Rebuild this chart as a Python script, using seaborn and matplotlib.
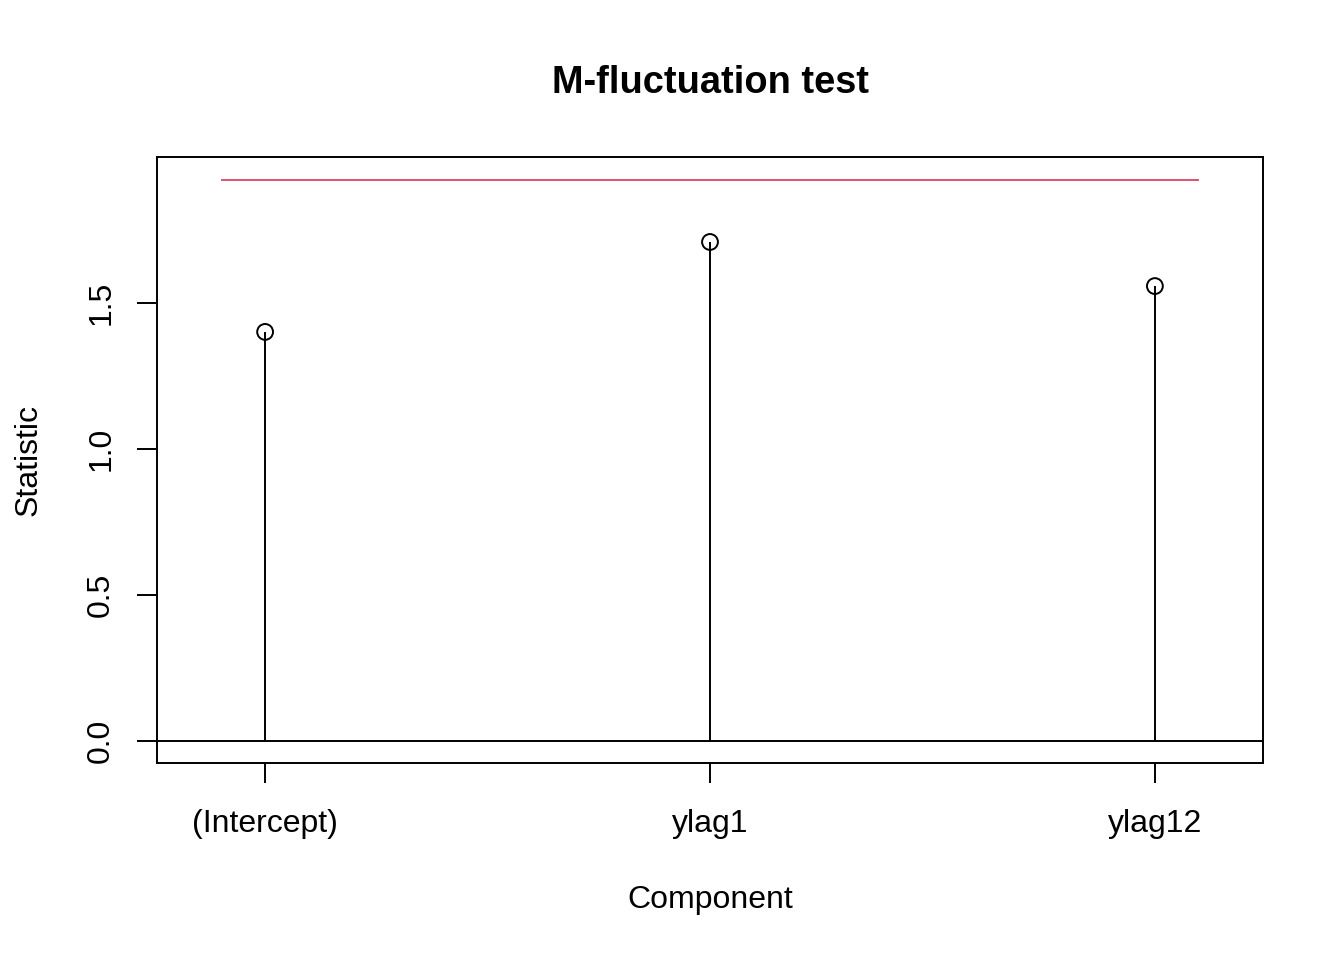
import numpy as np
import pandas as pd
import seaborn as sns
import matplotlib
matplotlib.use("Agg")
import matplotlib.pyplot as plt

# データ
components = ["(Intercept)", "ylag1", "ylag12"]
statistic = [1.401, 1.709, 1.558]
critical_value = 1.921

sns.set_theme(style="white")
plt.rcParams["font.family"] = ["Liberation Sans", "DejaVu Sans"]

df = pd.DataFrame({"pos": np.arange(1, len(components) + 1), "stat": statistic})

fig = plt.figure(figsize=(13.44, 9.6), dpi=100)
ax = fig.add_axes([157 / 1344, 1 - 763 / 960, (1263 - 157) / 1344, (763 - 157) / 960])

lw = 1.4
# 棒(ステム)と点
ax.vlines(df["pos"], 0, df["stat"], color="black", lw=lw)
sns.scatterplot(data=df, x="pos", y="stat", ax=ax, s=130, marker="o",
                facecolors="none", edgecolor="black", linewidth=lw, zorder=3)
ax.axhline(0, color="black", lw=lw)
ax.hlines(critical_value, df["pos"].iloc[0] - 0.1, df["pos"].iloc[-1] + 0.1,
          color="#DF536B", lw=lw)

ax.set_xlim(0.757, 3.243)
ax.set_ylim(-0.0753, 2.0)
ax.set_xticks(df["pos"])
ax.set_xticklabels(components)
ax.set_yticks([0.0, 0.5, 1.0, 1.5])
ax.set_yticklabels(["0.0", "0.5", "1.0", "1.5"], rotation=90, va="center")

ax.tick_params(axis="both", which="both", direction="out", length=14.4, width=lw,
               color="black", labelsize=23, labelcolor="black",
               bottom=True, left=True)
ax.tick_params(axis="x", pad=19)
ax.tick_params(axis="y", pad=15)
for sp in ax.spines.values():
    sp.set_visible(True)
    sp.set_color("black")
    sp.set_linewidth(lw)

ax.set_xlabel("Component", fontsize=23, labelpad=33, color="black")
ax.set_ylabel("Statistic", fontsize=23, labelpad=31, color="black")
ax.set_title("M-fluctuation test", fontsize=27.4, fontweight="bold", pad=46, color="black")

fig.savefig("out.png", dpi=100)
plt.close(fig)
